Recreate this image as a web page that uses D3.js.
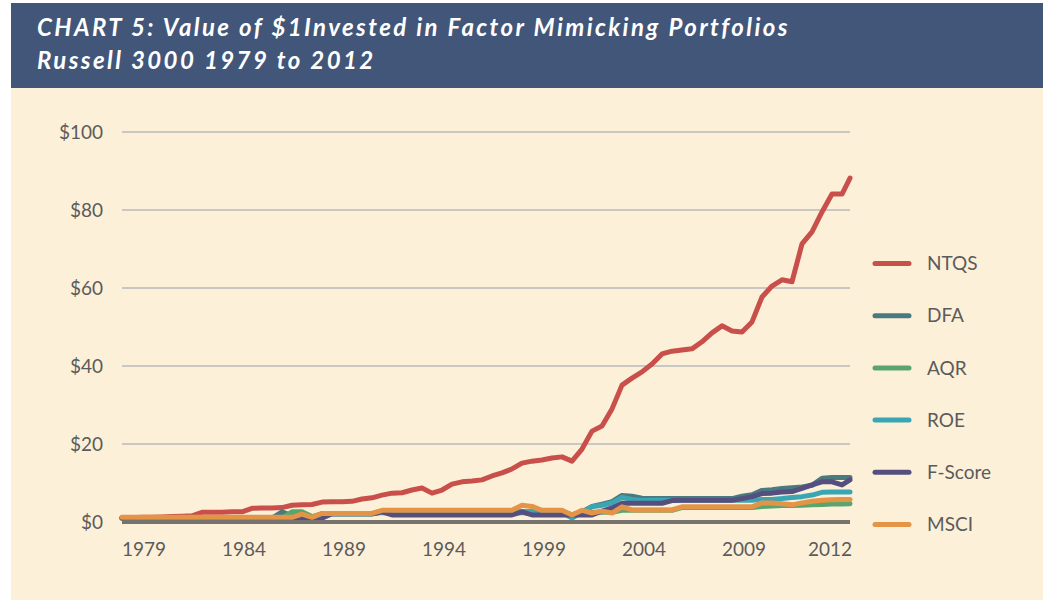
<!DOCTYPE html>
<html>
<head>
<meta charset="utf-8">
<script src="https://cdn.jsdelivr.net/npm/d3@7"></script>
<style>
  body { margin: 0; background: #fff; }
  text { font-family: Lato, "Open Sans", sans-serif; }
</style>
</head>
<body>
<div id="chart"></div>
<script>
// sample index along the x axis (last sample sits a bit short of a full step)
const period = d3.range(73).concat([72.8])

const tickLabels = ['1979', '1984', '1989', '1994', '1999', '2004', '2009', '2012']
const tickPeriod = [0, 10, 20, 30, 40, 50, 60, 68.6]
const yTicks = [0, 20, 40, 60, 80, 100]

const seriesNames = ['NTQS', 'DFA', 'AQR', 'ROE', 'F-Score', 'MSCI']

const ntqs = [1.0,1.1,1.2,1.2,1.3,1.4,1.5,1.6,2.5,2.5,
  2.5,2.6,2.6,3.5,3.6,3.6,3.7,4.3,4.4,4.5,
  5.1,5.2,5.2,5.3,5.9,6.2,6.9,7.4,7.5,8.2,
  8.7,7.4,8.2,9.7,10.3,10.5,10.8,11.8,12.6,13.6,
  15.1,15.6,15.9,16.4,16.7,15.6,18.7,23.3,24.6,29.0,
  35.1,36.9,38.5,40.5,43.1,43.8,44.1,44.4,46.2,48.5,
  50.3,49.0,48.7,51.3,57.7,60.5,62.1,61.6,71.3,74.4,
  79.5,84.1,84.1,88.2]

const dfa = [1.0,1.0,1.0,1.0,1.0,1.0,1.0,1.0,1.0,1.0,
  1.0,1.0,1.0,1.0,1.0,1.0,2.6,1.6,2.0,1.2,
  2.1,2.1,2.1,2.1,2.1,2.1,2.6,2.6,2.6,2.6,
  2.6,2.6,2.6,2.6,2.6,2.6,2.6,2.6,2.6,2.6,
  2.6,2.6,2.6,2.6,2.6,1.8,2.6,4.0,4.6,5.2,
  6.8,6.6,6.1,6.0,6.0,6.0,6.0,6.0,6.0,6.0,
  6.0,6.0,6.6,7.0,8.1,8.3,8.6,8.8,9.0,9.4,
  11.2,11.4,11.4,11.4]

const aqr = [1.0,1.0,1.0,1.0,1.0,1.0,1.0,1.0,1.0,1.0,
  1.0,1.0,1.0,1.0,1.0,1.0,1.0,2.6,2.6,1.4,
  2.1,2.1,2.1,2.1,2.1,2.1,2.6,2.6,2.6,2.6,
  2.6,2.6,2.6,2.6,2.6,2.6,2.6,2.6,2.6,2.6,
  2.6,2.6,2.6,2.6,2.6,1.8,2.6,2.5,2.5,2.5,
  3.0,3.0,3.0,3.0,3.0,3.0,3.7,3.7,3.7,3.7,
  3.7,3.7,3.7,3.7,4.0,4.1,4.2,4.2,4.3,4.4,
  4.5,4.6,4.6,4.7]

const roe = [1.0,1.0,1.0,1.0,1.0,1.0,1.0,1.0,1.0,1.0,
  1.0,1.0,1.0,1.0,1.0,1.0,1.0,1.2,1.2,1.0,
  2.1,2.1,2.1,2.1,2.1,2.1,2.4,2.4,2.4,2.4,
  2.4,2.4,2.4,2.4,2.4,2.4,2.4,2.4,2.4,2.4,
  2.4,2.4,2.4,2.4,2.4,1.0,2.5,3.9,4.3,4.9,
  6.3,5.8,5.5,5.6,5.6,5.6,5.6,5.6,5.6,5.6,
  5.6,5.6,5.6,5.6,5.8,5.8,6.0,6.3,6.5,6.9,
  7.6,7.7,7.7,7.7]

const fscore = [1.0,1.0,1.0,1.0,1.0,1.0,1.0,1.0,1.0,1.0,
  1.0,1.0,1.0,1.0,1.0,1.0,1.0,1.0,1.0,1.0,
  1.0,2.1,2.1,2.1,2.1,2.1,2.6,1.8,1.8,1.8,
  1.8,1.8,1.8,1.8,1.8,1.8,1.8,1.8,1.8,1.8,
  2.6,1.8,1.8,1.8,1.8,1.8,1.8,1.8,2.8,3.6,
  4.8,4.8,4.8,4.8,4.8,5.5,5.6,5.6,5.6,5.6,
  5.6,5.6,6.0,6.5,7.3,7.4,7.7,7.8,8.6,9.5,
  10.3,10.3,9.5,10.8]

const msci = [1.2,1.2,1.2,1.2,1.2,1.2,1.2,1.2,1.2,1.2,
  1.2,1.2,1.2,1.2,1.2,1.2,1.2,1.2,2.0,1.2,
  2.2,2.2,2.2,2.2,2.2,2.2,3.0,3.0,3.0,3.0,
  3.0,3.0,3.0,3.0,3.0,3.0,3.0,3.0,3.0,3.0,
  4.3,4.0,3.0,3.0,3.0,1.8,3.0,2.3,2.8,2.3,
  3.9,3.1,3.1,3.1,3.1,3.1,3.9,3.9,3.9,3.9,
  3.9,3.9,3.9,3.9,4.9,4.9,4.7,4.4,4.9,5.3,
  5.6,5.7,5.8,5.8]

const seriesValues = [ntqs, dfa, aqr, roe, fscore, msci]
const colors = ['#c94f4a', '#4a7a80', '#5aa56d', '#3ba6b3', '#554f80', '#e39447']

const width = 1043, height = 602

let svg = d3.select('#chart').append('svg')
  .attr('width', width).attr('height', height)

// header band + cream panel
svg.append('rect').attr('x', 11).attr('y', 3).attr('width', width - 11).attr('height', 85)
  .attr('fill', '#425679')
svg.append('rect').attr('x', 11).attr('y', 88).attr('width', width - 11).attr('height', height - 90)
  .attr('fill', '#fdf0d9')

svg.append('text').attr('x', 37).attr('y', 36)
  .attr('fill', '#fff').attr('font-size', 24).attr('font-weight', 'bold').attr('font-style', 'italic')
  .attr('letter-spacing', 2.4)
  .text('CHART 5: Value of $1Invested in Factor Mimicking Portfolios')
svg.append('text').attr('x', 37).attr('y', 69)
  .attr('fill', '#fff').attr('font-size', 24).attr('font-weight', 'bold').attr('font-style', 'italic')
  .attr('letter-spacing', 2.4)
  .text('Russell 3000 1979 to 2012')

let x = d3.scaleLinear().domain([0, 72.8]).range([122, 850])
let y = d3.scaleLinear().domain([0, 100]).range([522, 132])

// gridlines
svg.selectAll('.grid').data(yTicks.filter(d => d > 0)).enter()
  .append('line').attr('class', 'grid')
  .attr('x1', x(0)).attr('x2', x(72.8))
  .attr('y1', d => y(d)).attr('y2', d => y(d))
  .attr('stroke', '#c9c7c3').attr('stroke-width', 2)

svg.selectAll('.ylab').data(yTicks).enter()
  .append('text').attr('class', 'ylab')
  .attr('x', 103).attr('y', d => y(d)).attr('dy', '0.35em')
  .attr('text-anchor', 'end').attr('font-size', 19).attr('fill', '#5b5b5b')
  .text(d => '$' + d)

svg.selectAll('.xlab').data(tickLabels).enter()
  .append('text').attr('class', 'xlab')
  .attr('x', (d, i) => x(tickPeriod[i])).attr('y', 556)
  .attr('font-size', 19).attr('fill', '#5b5b5b')
  .text(d => d)

// lines, drawn in legend order so MSCI ends up on top
let line = d3.line().x((d, i) => x(period[i])).y(d => y(d))

svg.selectAll('.series').data(seriesValues).enter()
  .append('path').attr('class', 'series')
  .attr('d', d => line(d))
  .attr('fill', 'none')
  .attr('stroke', (d, i) => colors[i])
  .attr('stroke-width', 5)
  .attr('stroke-linejoin', 'round').attr('stroke-linecap', 'round')

// zero line
svg.append('line')
  .attr('x1', x(0)).attr('x2', x(72.8)).attr('y1', y(0)).attr('y2', y(0))
  .attr('stroke', '#76726d').attr('stroke-width', 4)

// legend
let legend = svg.selectAll('.legend').data(seriesNames).enter()
  .append('g').attr('class', 'legend')
  .attr('transform', (d, i) => 'translate(875,' + (263.5 + i * 52.2) + ')')
legend.append('line').attr('x1', 0).attr('x2', 34)
  .attr('stroke', (d, i) => colors[i]).attr('stroke-width', 5).attr('stroke-linecap', 'round')
legend.append('text').attr('x', 52).attr('dy', '0.35em')
  .attr('font-size', 19).attr('fill', '#5b5b5b')
  .text(d => d)
</script>
</body>
</html>
